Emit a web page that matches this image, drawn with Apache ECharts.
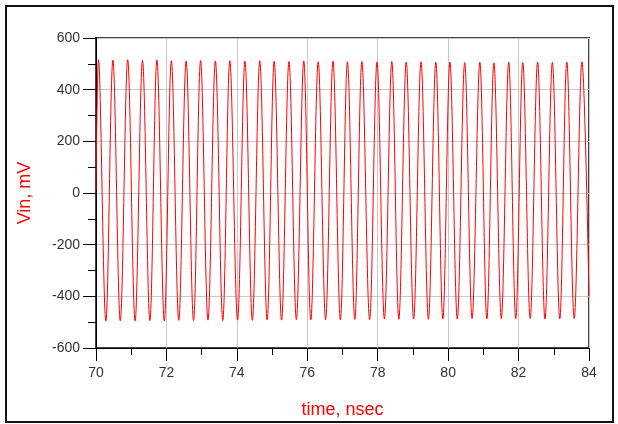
<!DOCTYPE html>
<html>
<head>
<meta charset="utf-8">
<script src="https://cdn.jsdelivr.net/npm/echarts@6/dist/echarts.min.js"></script>
<style>
  html, body { margin: 0; padding: 0; background: #fff; }
  #chart { width: 618px; height: 424px; }
</style>
</head>
<body>
<div id="chart"></div>
<script>
// 数据：波峰/波谷
const startPoint = [70, 10]
const endPoint = [84, -400]

const peakTimes = [70.07, 70.48, 70.90, 71.32, 71.73, 72.14, 72.56, 72.97, 73.39, 73.80,
  74.23, 74.65, 75.06, 75.48, 75.90, 76.31, 76.73, 77.14, 77.55, 77.98,
  78.40, 78.81, 79.23, 79.65, 80.05, 80.47, 80.90, 81.30, 81.72, 82.12,
  82.54, 82.96, 83.37, 83.80]
const peakValues = [516, 514, 516, 513, 515, 512, 511, 513, 511, 512,
  510, 512, 510, 509, 511, 508, 510, 508, 509, 507,
  509, 507, 508, 506, 507, 505, 506, 504, 506, 505,
  507, 506, 507, 508]

const troughTimes = [70.28, 70.69, 71.11, 71.53, 71.94, 72.35, 72.77, 73.18, 73.60, 74.02,
  74.44, 74.86, 75.27, 75.69, 76.10, 76.52, 76.94, 77.35, 77.77, 78.19,
  78.60, 79.02, 79.44, 79.85, 80.26, 80.68, 81.10, 81.51, 81.92, 82.33,
  82.75, 83.17, 83.58]
const troughValues = [-496, -495, -496, -494, -495, -493, -494, -492, -494, -492,
  -493, -491, -492, -490, -491, -490, -491, -489, -490, -488,
  -489, -488, -489, -487, -488, -486, -487, -486, -487, -486,
  -488, -487, -486]

// 坐标轴刻度
const xMin = 70, xMax = 84, xStep = 2
const yMin = -600, yMax = 600, yStep = 200

// 拼成折线数据
let points = [startPoint]
for (let i = 0; i < peakTimes.length; i++) {
  points.push([peakTimes[i], peakValues[i]])
  if (i < troughTimes.length) points.push([troughTimes[i], troughValues[i]])
}
points.push(endPoint)

let myCharts = echarts.init(document.getElementById('chart'))

const labelFont = { color: '#333', fontSize: 14, fontFamily: 'Liberation Sans, Arial, sans-serif' }
const nameFont = { color: '#ff0000', fontSize: 18, fontFamily: 'Liberation Sans, Arial, sans-serif' }

myCharts.setOption({
  animation: false,
  backgroundColor: '#fff',
  // 外框
  graphic: [{
    type: 'rect',
    shape: { x: 6, y: 6, width: 607, height: 416 },
    style: { fill: 'none', stroke: '#111', lineWidth: 2 },
    silent: true
  }],
  grid: {
    left: 96,
    right: 29,
    top: 38,
    bottom: 73,
    show: true,
    borderColor: '#444',
    borderWidth: 2,
    backgroundColor: '#fff'
  },
  xAxis: {
    type: 'value',
    min: xMin,
    max: xMax,
    interval: xStep,
    name: 'time, nsec',
    nameLocation: 'middle',
    nameGap: 53,
    nameTextStyle: nameFont,
    axisLine: { show: true, onZero: false, lineStyle: { color: '#000', width: 1 } },
    axisTick: { show: true, inside: false, length: 13, lineStyle: { color: '#000' } },
    minorTick: { show: true, splitNumber: 2, length: 7, lineStyle: { color: '#000' } },
    axisLabel: { ...labelFont, margin: 18 },
    splitLine: { show: true, lineStyle: { color: '#c8c8c8', width: 1 } }
  },
  yAxis: {
    type: 'value',
    min: yMin,
    max: yMax,
    interval: yStep,
    name: 'Vin, mV',
    nameLocation: 'middle',
    nameGap: 62,
    nameTextStyle: nameFont,
    axisLine: { show: true, onZero: false, lineStyle: { color: '#000', width: 1 } },
    axisTick: { show: true, inside: false, length: 13, lineStyle: { color: '#000' } },
    minorTick: { show: true, splitNumber: 2, length: 8, lineStyle: { color: '#000' } },
    axisLabel: { ...labelFont, margin: 16 },
    splitLine: { show: true, lineStyle: { color: '#c8c8c8', width: 1 } }
  },
  series: [{
    type: 'line',
    data: points,
    showSymbol: false,
    smooth: 0.36,
    lineStyle: { color: '#ff0000', width: 1 }
  }]
})
</script>
</body>
</html>
